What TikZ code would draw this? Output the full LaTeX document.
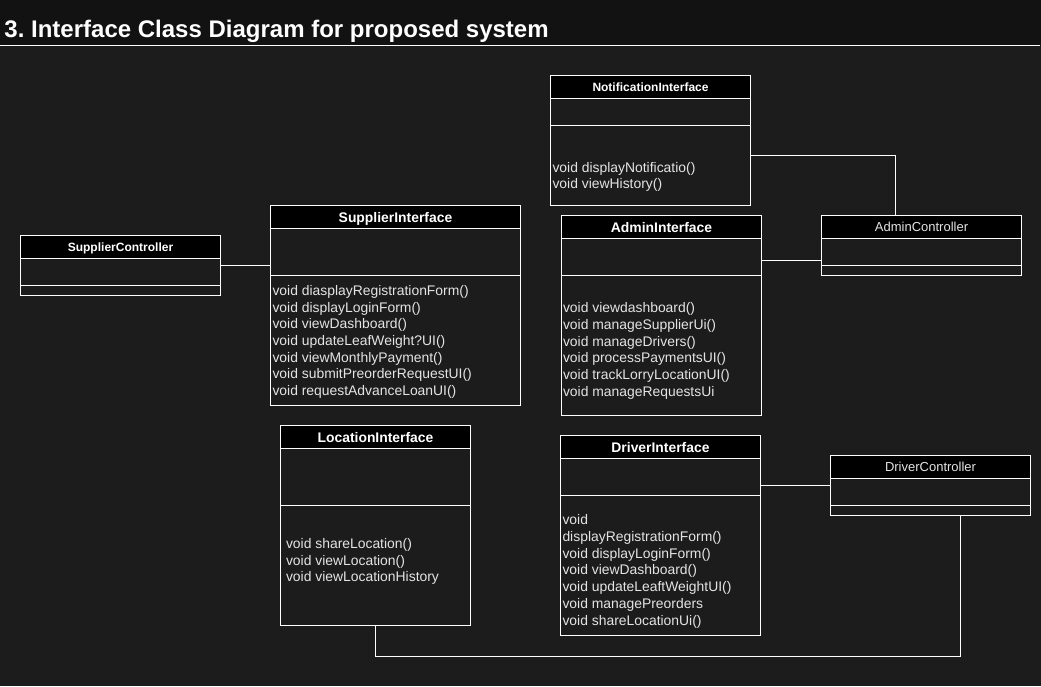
\documentclass[tikz,border=0pt]{standalone}
\usepackage{fontspec}
\setmainfont{Liberation Sans}
\frenchspacing
\definecolor{canvas}{HTML}{1C1C1C}
\definecolor{band}{HTML}{121212}
\definecolor{optext}{HTML}{E4E4E4}
\tikzset{head/.style = {shape=rectangle,draw=white,fill=black,text=white,anchor=north west,inner sep=0,minimum width=200pt,minimum height=23pt,text depth=0pt,font=\bfseries\fontsize{13.9}{16}\selectfont}}
\tikzset{smallhead/.style = {head,font=\bfseries\fontsize{12}{14}\selectfont}}
\tikzset{ctlhead/.style = {head,text=optext,font=\fontsize{13}{15}\selectfont}}
\tikzset{part/.style = {shape=rectangle,draw=white,anchor=north west,inner sep=0,minimum width=200pt}}
\tikzset{ops/.style = {anchor=north west,inner sep=0,align=left,text=optext,font=\fontsize{13.9}{16.67}\selectfont}}

\begin{document}
\begin{tikzpicture}[x=1pt,y=-1pt,line width=1pt]
          \useasboundingbox (0,0) rectangle (1041,686);
          \fill[band] (0,0) rectangle (1041,45);
          \fill[canvas] (0,45) rectangle (1041,686);
          \draw[white] (0,45.5) -- (1040,45.5);
          \node[anchor=base west,inner sep=0,text=white,font=\bfseries\fontsize{24}{29}\selectfont] (title) at (4,37) {3. Interface Class Diagram for proposed system};

          \node[smallhead] (notif) at (550,75) {NotificationInterface};
          \node[part,minimum height=27pt] (notif-attr) at (550,98) {};
          \node[part,minimum height=80pt] (notif-meth) at (550,125) {};
          \node[ops] (notif-ops) at (552,161.6) {void displayNotificatio()\\void viewHistory()};

          \node[head] (adm) at (561,215) {AdminInterface};
          \node[part,minimum height=37pt] (adm-attr) at (561,238) {};
          \node[part,minimum height=140pt] (adm-meth) at (561,275) {};
          \node[ops] (adm-ops) at (562.5,302.2) {void viewdashboard()\\void manageSupplierUi()\\void manageDrivers()\\void processPaymentsUI()\\void trackLorryLocationUI()\\void manageRequestsUi};

          \node[ctlhead] (admCtl) at (821,215) {AdminController};
          \node[part,minimum height=27pt] (admCtl-attr) at (821,238) {};
          \node[part,minimum height=10pt] (admCtl-meth) at (821,265) {};

          \node[smallhead] (supCtl) at (20,235) {SupplierController};
          \node[part,minimum height=27pt] (supCtl-attr) at (20,258) {};
          \node[part,minimum height=10pt] (supCtl-meth) at (20,285) {};

          \node[head,minimum width=250pt] (sup) at (270,205) {SupplierInterface};
          \node[part,minimum width=250pt,minimum height=47pt] (sup-attr) at (270,228) {};
          \node[part,minimum width=250pt,minimum height=130pt] (sup-meth) at (270,275) {};
          \node[ops] (sup-ops) at (272,284.8) {void diasplayRegistrationForm()\\void displayLoginForm()\\void viewDashboard()\\void updateLeafWeight?UI()\\void viewMonthlyPayment()\\void submitPreorderRequestUI()\\void requestAdvanceLoanUI()};

          \node[head,minimum width=190pt] (loc) at (280,425) {LocationInterface};
          \node[part,minimum width=190pt,minimum height=57pt] (loc-attr) at (280,448) {};
          \node[part,minimum width=190pt,minimum height=120pt] (loc-meth) at (280,505) {};
          \node[ops] (loc-ops) at (285.5,537.8) {void shareLocation()\\void viewLocation()\\void viewLocationHistory};

          \node[head] (drv) at (560,435) {DriverInterface};
          \node[part,minimum height=37pt] (drv-attr) at (560,458) {};
          \node[part,minimum height=140pt] (drv-meth) at (560,495) {};
          \node[ops] (drv-ops) at (562,514.4) {void\\displayRegistrationForm()\\void displayLoginForm()\\void viewDashboard()\\void updateLeaftWeightUI()\\void managePreorders\\void shareLocationUi()};

          \node[ctlhead] (drvCtl) at (830,455) {DriverController};
          \node[part,minimum height=27pt] (drvCtl-attr) at (830,478) {};
          \node[part,minimum height=10pt] (drvCtl-meth) at (830,505) {};

          \draw[white] ([yshift=10pt]notif-meth.east) -| ([xshift=-26pt]admCtl.north);
          \draw[white] ([yshift=-3.5pt]adm-attr.east) -- ([yshift=-8.5pt]admCtl-attr.west);
          \draw[white] ([yshift=6.5pt]supCtl-attr.east) -- ([yshift=-13.5pt]sup-attr.west);
          \draw[white] ([yshift=-8.5pt]drv-attr.east) -- ([yshift=6.5pt]drvCtl-attr.west);
          \draw[white] (loc-meth.south) -- ++(0,30) -| ([xshift=30pt]drvCtl-meth.south);
        \end{tikzpicture}
\end{document}
